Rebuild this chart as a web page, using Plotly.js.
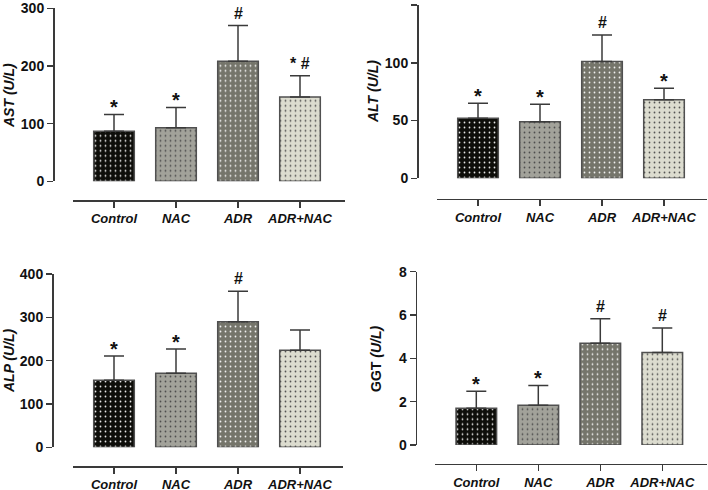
<!DOCTYPE html>
<html>
<head>
<meta charset="utf-8">
<script src="https://cdn.plot.ly/plotly-3.0.1.min.js"></script>
<style>html,body{margin:0;padding:0;background:#fff;}#chart{width:708px;height:490px;}</style>
</head>
<body>
<div id="chart"></div>
<script>
// ---- data ----
const groups = ["Control", "NAC", "ADR", "ADR+NAC"];
const astMean = [87, 93, 208, 146];
const astErr  = [29, 35, 62, 37];
const astSig  = ["*", "*", "#", "*#"];
const altMean = [52, 49, 101, 68];
const altErr  = [13, 15, 23, 10];
const altSig  = ["*", "*", "#", "*"];
const alpMean = [155, 171, 290, 224];
const alpErr  = [56, 56, 70, 47];
const alpSig  = ["*", "*", "#", ""];
const ggtMean = [1.7, 1.83, 4.7, 4.27];
const ggtErr  = [0.78, 0.92, 1.13, 1.13];
const ggtSig  = ["*", "*", "#", "#"];
const astTicks = [0, 100, 200, 300];
const altTicks = [0, 50, 100, 150];
const alpTicks = [0, 100, 200, 300, 400];
const ggtTicks = [0, 2, 4, 6, 8];

// ---- styling ----
const W = 708, H = 490;
const px = v => v / W;
const py = v => 1 - v / H;
const barColors = ["#0e0e0a", "#a2a29a", "#75756b", "#dcdccf"];
const FONT = "Liberation Sans, Arial, sans-serif";
const ink = "#3a3a3a";

const panels = [
  {mean: astMean, err: astErr, sig: astSig, ticks: astTicks, title: "<b><i>AST (U/L)</i></b>",
   xd: [73, 345], xt0: 114, y0: 181.3, y1: 8.3, xpos: 200, ypos: 53, tx: 9, ty: 96},
  {mean: altMean, err: altErr, sig: altSig, ticks: altTicks, title: "<b><i>ALT (U/L)</i></b>",
   xd: [437, 707], xt0: 478, y0: 178.3, y1: 5, xpos: 198.7, ypos: 417, tx: 373, ty: 92},
  {mean: alpMean, err: alpErr, sig: alpSig, ticks: alpTicks, title: "<b><i>ALP (U/L)</i></b>",
   xd: [73, 343], xt0: 114, y0: 447.3, y1: 274, xpos: 466, ypos: 52, tx: 9, ty: 361},
  {mean: ggtMean, err: ggtErr, sig: ggtSig, ticks: ggtTicks, title: "<b>GGT <i>(U/L)</i></b>",
   xd: [435, 707], xt0: 476.3, y0: 445, y1: 271.7, xpos: 463.5, ypos: 415.7, tx: 376, ty: 359}
];

const data = [];
const layout = {
  width: W, height: H,
  margin: {l: 0, r: 0, t: 0, b: 0},
  paper_bgcolor: "#fff", plot_bgcolor: "rgba(0,0,0,0)",
  showlegend: false,
  font: {family: FONT, color: "#111"},
  annotations: []
};

panels.forEach((p, i) => {
  const n = i + 1;
  const xa = n === 1 ? "x" : "x" + n;
  const ya = n === 1 ? "y" : "y" + n;
  const xKey = n === 1 ? "xaxis" : "xaxis" + n;
  const yKey = n === 1 ? "yaxis" : "yaxis" + n;
  const spacing = 62;
  const xr = [-(p.xt0 - p.xd[0]) / spacing, 3 + (p.xd[1] - (p.xt0 + 3 * spacing)) / spacing];
  const yMax = p.ticks[p.ticks.length - 1];

  data.push({
    type: "bar", x: groups, y: p.mean, xaxis: xa, yaxis: ya,
    width: 0.655,
    marker: {
      color: barColors,
      line: {color: "#505050", width: 1.5},
      pattern: {shape: ".", fillmode: "overlay", fgcolor: "#dede22",
                fgopacity: 0.9, size: 5, solidity: 0.1}
    },
    error_y: {type: "data", symmetric: false, array: p.err, arrayminus: [0, 0, 0, 0],
              color: ink, thickness: 1.5, width: 10},
    hoverinfo: "skip"
  });

  layout[xKey] = {
    domain: [px(p.xd[0]), px(p.xd[1])],
    range: xr, type: "category",
    anchor: "free", position: py(p.xpos),
    showline: true, linecolor: ink, linewidth: 1.5,
    ticks: "outside", ticklen: 6, tickwidth: 1.5, tickcolor: ink,
    showgrid: false, zeroline: false, fixedrange: true,
    tickfont: {family: FONT, size: 13, weight: "bold", style: "italic", color: "#111"}
  };
  layout[yKey] = {
    domain: [py(p.y0), py(p.y1)],
    range: [0, yMax],
    anchor: "free", position: px(p.ypos),
    tickvals: p.ticks, ticktext: p.ticks.map(String),
    showline: true, linecolor: ink, linewidth: 1.5,
    ticks: "outside", ticklen: 6, tickwidth: 1.5, tickcolor: ink,
    showgrid: false, zeroline: false, fixedrange: true,
    tickfont: {family: FONT, size: 14, weight: "bold", color: "#111"}
  };

  layout.annotations.push({
    xref: "paper", yref: "paper", x: px(p.tx), y: py(p.ty),
    text: p.title, textangle: -90, showarrow: false,
    xanchor: "center", yanchor: "middle",
    font: {family: FONT, size: 14, color: "#111"}
  });

  groups.forEach((g, k) => {
    if (!p.sig[k]) return;
    const isStarOnly = p.sig[k] === "*";
    layout.annotations.push({
      xref: xa, yref: ya, x: g, y: p.mean[k] + p.err[k],
      text: "<b>" + (p.sig[k] === "*#" ? "* #" : p.sig[k]) + "</b>",
      showarrow: false, xanchor: "center", yanchor: "bottom",
      yshift: isStarOnly ? -6 : 2,
      font: {family: FONT, size: isStarOnly ? 20 : 16, color: "#111"}
    });
  });
});

Plotly.newPlot("chart", data, layout, {staticPlot: true, displayModeBar: false});
</script>
</body>
</html>
